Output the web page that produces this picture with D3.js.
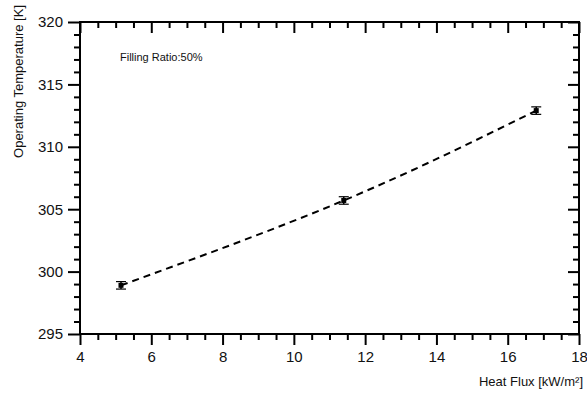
<!DOCTYPE html>
<html><head><meta charset="utf-8">
<script src="https://cdn.jsdelivr.net/npm/d3@7"></script>
<style>body{margin:0;background:#fff}svg{display:block}text{font-family:"Liberation Sans",Arial,sans-serif}</style>
</head><body><div id="chart"></div>
<script>
const heatFlux = [5.15, 11.4, 16.8];
const temperature = [298.9, 305.7, 312.9];
const tempError = [0.3, 0.3, 0.3];
const xTicks = [4, 6, 8, 10, 12, 14, 16, 18];
const yTicks = [295, 300, 305, 310, 315, 320];
const annotation = "Filling Ratio:50%";
const xLabel = "Heat Flux [kW/m²]";
const yLabel = "Operating Temperature [K]";

const W = 587, H = 394;
const m = {left: 80, right: 8, top: 22, bottom: 60};
const svg = d3.select("#chart").append("svg").attr("width", W).attr("height", H);
const x = d3.scaleLinear().domain([4, 18]).range([m.left, W - m.right]);
const y = d3.scaleLinear().domain([295, 320]).range([H - m.bottom, m.top]);

const xMinor = d3.range(4, 18.01, 0.5).filter(v => !xTicks.includes(v));
const yMinor = d3.range(295, 320.01, 1).filter(v => !yTicks.includes(v));

function styleAxis(g){ g.attr("font-family",null); g.select(".domain").remove(); g.selectAll("line").attr("stroke","#000").attr("stroke-width",2); g.selectAll("text").attr("font-size",15).attr("fill","#111").attr("font-family","Liberation Sans, Arial, sans-serif"); }

// bottom
svg.append("g").attr("transform",`translate(0,${y(295)})`).call(d3.axisBottom(x).tickValues(xTicks).tickSize(11).tickPadding(6).tickFormat(d3.format("d"))).call(styleAxis);
svg.append("g").attr("transform",`translate(0,${y(295)})`).call(d3.axisBottom(x).tickValues(xMinor).tickSize(6).tickFormat("")).call(styleAxis);
// top (inward)
svg.append("g").attr("transform",`translate(0,${y(320)})`).call(d3.axisTop(x).tickValues(xTicks).tickSize(-11).tickFormat("")).call(styleAxis);
svg.append("g").attr("transform",`translate(0,${y(320)})`).call(d3.axisTop(x).tickValues(xMinor).tickSize(-6).tickFormat("")).call(styleAxis);
// left
svg.append("g").attr("transform",`translate(${x(4)},0)`).call(d3.axisLeft(y).tickValues(yTicks).tickSize(12).tickPadding(5).tickFormat(d3.format("d"))).call(styleAxis);
svg.append("g").attr("transform",`translate(${x(4)},0)`).call(d3.axisLeft(y).tickValues(yMinor).tickSize(6).tickFormat("")).call(styleAxis);
// right (inward)
svg.append("g").attr("transform",`translate(${x(18)},0)`).call(d3.axisRight(y).tickValues(yTicks).tickSize(-11).tickFormat("")).call(styleAxis);
svg.append("g").attr("transform",`translate(${x(18)},0)`).call(d3.axisRight(y).tickValues(yMinor).tickSize(-6).tickFormat("")).call(styleAxis);

// frame
svg.append("rect").attr("x",x(4)).attr("y",y(320)).attr("width",x(18)-x(4)).attr("height",y(295)-y(320))
  .attr("fill","none").attr("stroke","#000").attr("stroke-width",2);

const pts = heatFlux.map((v,i)=>({x:v, y:temperature[i], e:tempError[i]}));
svg.append("path").datum(pts).attr("fill","none").attr("stroke","#000").attr("stroke-width",2)
  .attr("stroke-dasharray","7,5")
  .attr("d", d3.line().x(d=>x(d.x)).y(d=>y(d.y)).curve(d3.curveNatural));

const eb = svg.append("g").selectAll("g").data(pts).join("g");
eb.append("line").attr("x1",d=>x(d.x)).attr("x2",d=>x(d.x)).attr("y1",d=>y(d.y-d.e)).attr("y2",d=>y(d.y+d.e)).attr("stroke","#000").attr("stroke-width",1.5);
eb.append("line").attr("x1",d=>x(d.x)-5).attr("x2",d=>x(d.x)+5).attr("y1",d=>y(d.y-d.e)).attr("y2",d=>y(d.y-d.e)).attr("stroke","#000").attr("stroke-width",1.2);
eb.append("line").attr("x1",d=>x(d.x)-5).attr("x2",d=>x(d.x)+5).attr("y1",d=>y(d.y+d.e)).attr("y2",d=>y(d.y+d.e)).attr("stroke","#000").attr("stroke-width",1.2);
eb.append("rect").attr("x",d=>x(d.x)-2.5).attr("y",d=>y(d.y)-2.5).attr("width",5).attr("height",5).attr("fill","#000");

svg.append("text").attr("x",120).attr("y",61).attr("font-size",11).attr("fill","#111").text(annotation);
svg.append("text").attr("x",583).attr("y",386).attr("text-anchor","end").attr("font-size",13).attr("fill","#111").text(xLabel);
svg.append("text").attr("transform","translate(23,5) rotate(-90)").attr("text-anchor","end").attr("font-size",13).attr("fill","#111").text(yLabel);
</script></body></html>
